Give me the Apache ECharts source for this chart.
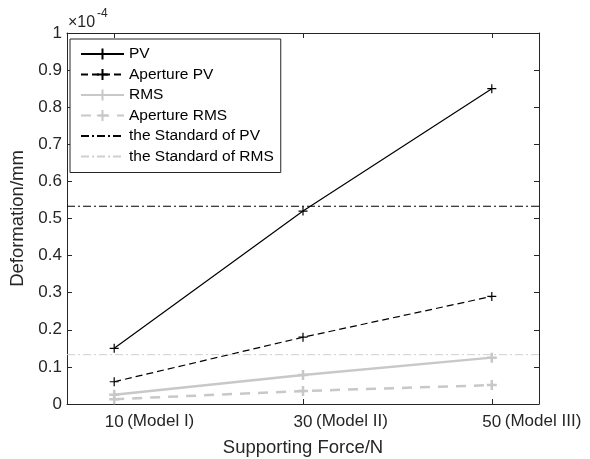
<!DOCTYPE html>
<html>
<head>
<meta charset="utf-8">
<script src="https://cdn.jsdelivr.net/npm/echarts@6/dist/echarts.min.js"></script>
<style>
  html, body { margin: 0; padding: 0; background: #fff; }
  #main { width: 590px; height: 459px; }
</style>
</head>
<body>
<div id="main"></div>
<script>
// supporting force (N) and model names
var forces = [10, 30, 50];
var modelNames = ['(Model I)', '(Model II)', '(Model III)'];
// deformation, in units of 1e-4 mm
var pv = [0.15, 0.52, 0.85];
var aperturePv = [0.06, 0.18, 0.29];
var rms = [0.025, 0.078, 0.125];
var apertureRms = [0.013, 0.035, 0.051];
var standardPv = 0.533;
var standardRms = 0.133;
var xRange = [5, 55];

var FONT = 'Liberation Sans, Arial, sans-serif';
var AXIS = '#262626';
var GRAY = '#c8c8c8';
var PLUS = 'path://M0,5L10,5M5,0L5,10';

function pairs(vals) {
    return forces.map(function (f, i) { return [f, vals[i]]; });
}
function flat(v) {
    return [[xRange[0], v], [xRange[1], v]];
}

var chart = echarts.init(document.getElementById('main'), null, {renderer: 'canvas'});

var tickAxis = {
    type: 'value',
    min: xRange[0],
    max: xRange[1],
    axisLine: {show: true, lineStyle: {color: AXIS, width: 1}},
    axisTick: {show: true, inside: true, length: 5, lineStyle: {color: AXIS}, customValues: forces},
    splitLine: {show: false}
};

var option = {
    animation: false,
    textStyle: {fontFamily: FONT},
    grid: {left: 67, right: 51, top: 33, bottom: 55, containLabel: false, outerBoundsMode: 'none'},
    legend: {
        orient: 'vertical',
        left: 70,
        top: 39,
        backgroundColor: '#fff',
        borderColor: AXIS,
        borderWidth: 1,
        padding: [7, 7, 8, 10],
        itemWidth: 43,
        itemHeight: 14,
        itemGap: 4.5,
        textStyle: {fontFamily: FONT, fontSize: 15.5, color: '#000'},
        data: ['PV', 'Aperture PV', 'RMS', 'Aperture RMS', 'the Standard of PV', 'the Standard of RMS']
    },
    graphic: [
        {type: 'text', left: 68, top: 15, style: {text: '×10', font: '16px ' + FONT, fill: '#262626'}},
        {type: 'text', left: 97, top: 8, style: {text: '-4', font: '12px ' + FONT, fill: '#262626'}}
    ],
    xAxis: [
        Object.assign({}, tickAxis, {
            position: 'bottom',
            name: 'Supporting Force/N',
            nameLocation: 'middle',
            nameGap: 34,
            nameTextStyle: {fontSize: 18.5, color: '#262626', fontFamily: FONT},
            axisLabel: {
                show: true, margin: 10, fontSize: 17, color: '#262626', fontFamily: FONT,
                customValues: forces,
                formatter: function (v) { return String(v); }
            }
        }),
        Object.assign({}, tickAxis, {
            position: 'bottom',
            axisLine: {show: false},
            axisTick: {show: false},
            axisLabel: {
                show: true, margin: 9, fontSize: 17, color: '#262626', fontFamily: FONT,
                align: 'left',
                customValues: forces,
                formatter: function (v) {
                    return '{s|}' + modelNames[forces.indexOf(v)];
                },
                rich: {s: {width: 13}}
            }
        }),
        Object.assign({}, tickAxis, {
            position: 'top',
            axisLabel: {show: false}
        })
    ],
    yAxis: [
        {
            type: 'value', min: 0, max: 1, interval: 0.1, position: 'left',
            name: 'Deformation/mm',
            nameLocation: 'middle',
            nameGap: 37,
            nameTextStyle: {fontSize: 18.5, color: '#262626', fontFamily: FONT},
            axisLine: {show: true, lineStyle: {color: AXIS}},
            axisTick: {show: true, inside: true, length: 5, lineStyle: {color: AXIS}},
            axisLabel: {
                margin: 5, fontSize: 17, color: '#262626', fontFamily: FONT,
                formatter: function (v) { return String(Math.round(v * 10) / 10); }
            },
            splitLine: {show: false}
        },
        {
            type: 'value', min: 0, max: 1, interval: 0.1, position: 'right',
            axisLine: {show: true, lineStyle: {color: AXIS}},
            axisTick: {show: true, inside: true, length: 5, lineStyle: {color: AXIS}},
            axisLabel: {show: false},
            splitLine: {show: false}
        }
    ],
    series: [
        {
            name: 'PV', type: 'line', data: pairs(pv),
            symbol: PLUS, symbolSize: 9,
            lineStyle: {color: '#000', width: 1.2},
            itemStyle: {color: '#000', borderColor: '#000', borderWidth: 1.2}
        },
        {
            name: 'Aperture PV', type: 'line', data: pairs(aperturePv),
            symbol: PLUS, symbolSize: 9,
            lineStyle: {color: '#000', width: 1.2, type: [7, 4]},
            itemStyle: {color: '#000', borderColor: '#000', borderWidth: 1.2}
        },
        {
            name: 'RMS', type: 'line', data: pairs(rms),
            symbol: PLUS, symbolSize: 10,
            lineStyle: {color: GRAY, width: 2.5},
            itemStyle: {color: GRAY, borderColor: GRAY, borderWidth: 2.5}
        },
        {
            name: 'Aperture RMS', type: 'line', data: pairs(apertureRms),
            symbol: PLUS, symbolSize: 10,
            lineStyle: {color: GRAY, width: 2.5, type: [10, 8]},
            itemStyle: {color: GRAY, borderColor: GRAY, borderWidth: 2.5}
        },
        {
            name: 'the Standard of PV', type: 'line', data: flat(standardPv),
            symbol: 'none',
            lineStyle: {color: '#000', width: 1, type: [8, 3, 2, 3]},
            itemStyle: {color: 'rgba(0,0,0,0)', borderWidth: 0}
        },
        {
            name: 'the Standard of RMS', type: 'line', data: flat(standardRms),
            symbol: 'none',
            lineStyle: {color: '#d0d0d0', width: 1, type: [8, 3, 2, 3]},
            itemStyle: {color: 'rgba(0,0,0,0)', borderWidth: 0}
        }
    ]
};

chart.setOption(option);
</script>
</body>
</html>
